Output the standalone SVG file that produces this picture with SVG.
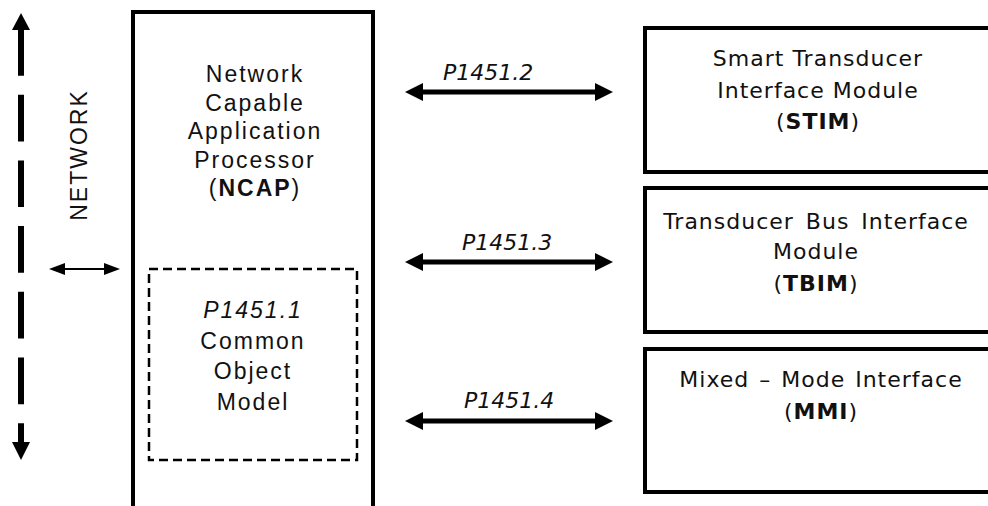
<svg xmlns="http://www.w3.org/2000/svg" width="988" height="506" viewBox="0 0 988 506">
<style>
.box{fill:#fff;stroke:#000;stroke-width:4}
.dash{fill:none;stroke:#000;stroke-width:2.5;stroke-dasharray:9 5}
.ncap{font-family:"Liberation Sans",Arial,sans-serif;font-size:23px;letter-spacing:2px;text-anchor:middle;fill:#111}
.mod{font-family:"DejaVu Sans",Verdana,sans-serif;font-size:22px;letter-spacing:1px;text-anchor:middle;fill:#111}
.lbl{font-family:"DejaVu Sans",Verdana,sans-serif;font-size:22px;font-style:italic;fill:#111}
.b{font-weight:bold}
.thick{stroke:#000;stroke-width:5;fill:none}
.thin{stroke:#000;stroke-width:2;fill:none}
</style>
<defs>
<marker id="big" markerUnits="userSpaceOnUse" markerWidth="18" markerHeight="18" refX="8" refY="9" orient="auto-start-reverse">
<path d="M0,0 L18,9 L0,18 z" fill="#000"/>
</marker>
<marker id="small" markerUnits="userSpaceOnUse" markerWidth="16" markerHeight="12" refX="6" refY="6" orient="auto-start-reverse">
<path d="M0,0 L16,6 L0,12 z" fill="#000"/>
</marker>
</defs>
<rect width="988" height="506" fill="#fff"/>

<g id="ncap">
<rect class="box" x="133" y="12" width="240" height="520"/>
<text class="ncap" x="255" y="82">Network</text>
<text class="ncap" x="255" y="111">Capable</text>
<text class="ncap" x="255" y="139">Application</text>
<text class="ncap" x="255" y="168">Processor</text>
<text class="ncap" x="255" y="196">(<tspan class="b">NCAP</tspan>)</text>
</g>

<g id="com">
<rect class="dash" x="149" y="269" width="208" height="191"/>
<text class="ncap" x="253" y="318" font-style="italic">P1451.1</text>
<text class="ncap" x="253" y="349">Common</text>
<text class="ncap" x="253" y="379">Object</text>
<text class="ncap" x="253" y="410">Model</text>
</g>

<g id="network">
<text class="ncap" transform="translate(87,155) rotate(-90)" font-size="23" letter-spacing="0.5">NETWORK</text>
</g>

<g id="stim">
<rect class="box" x="645" y="28" width="360" height="144"/>
<text class="mod" x="818" y="66">Smart Transducer</text>
<text class="mod" x="818" y="98">Interface Module</text>
<text class="mod" x="818" y="129">(<tspan class="b">STIM</tspan>)</text>
</g>

<g id="tbim">
<rect class="box" x="645" y="188" width="360" height="144"/>
<text class="mod" x="816" y="229" word-spacing="4">Transducer Bus Interface</text>
<text class="mod" x="816" y="259">Module</text>
<text class="mod" x="816" y="291">(<tspan class="b">TBIM</tspan>)</text>
</g>

<g id="mmi">
<rect class="box" x="645" y="349" width="360" height="143"/>
<text class="mod" x="821" y="387" word-spacing="2">Mixed – Mode Interface</text>
<text class="mod" x="821" y="419">(<tspan class="b">MMI</tspan>)</text>
</g>

<g id="connectors">
<line x1="21" y1="29" x2="21" y2="443" stroke="#000" stroke-width="6" stroke-dasharray="46.7 19"/>
<path d="M21,13 L30,30 L12,30 z" fill="#000"/>
<path d="M21,460 L30,442 L12,442 z" fill="#000"/>
<line class="thin" x1="59" y1="269" x2="110" y2="269" marker-start="url(#small)" marker-end="url(#small)"/>
<line class="thick" x1="415" y1="92" x2="603" y2="92" marker-start="url(#big)" marker-end="url(#big)"/>
<line class="thick" x1="415" y1="262" x2="603" y2="262" marker-start="url(#big)" marker-end="url(#big)"/>
<line class="thick" x1="415" y1="421" x2="603" y2="421" marker-start="url(#big)" marker-end="url(#big)"/>
<text class="lbl" x="443" y="80">P1451.2</text>
<text class="lbl" x="462" y="250">P1451.3</text>
<text class="lbl" x="464" y="408">P1451.4</text>
</g>
</svg>
